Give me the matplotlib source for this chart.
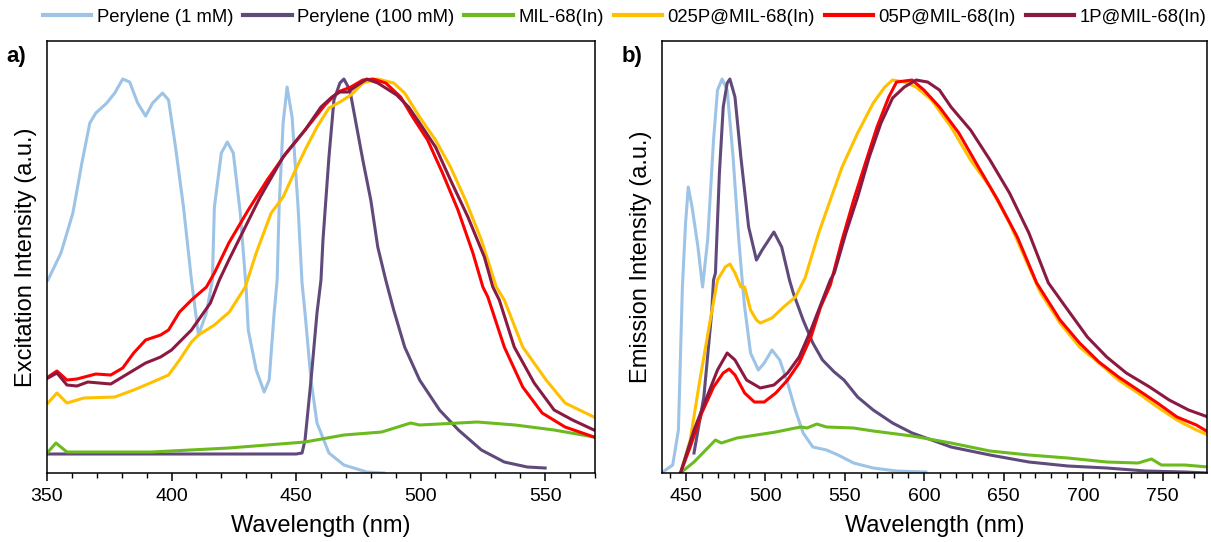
import matplotlib
matplotlib.use("Agg")
import matplotlib.pyplot as plt
from matplotlib.ticker import MultipleLocator, NullLocator

plt.rcParams['font.family'] = ['Liberation Sans', 'DejaVu Sans']

labels = ["Perylene (1 mM)", "Perylene (100 mM)", "MIL-68(In)",
          "025P@MIL-68(In)", "05P@MIL-68(In)", "1P@MIL-68(In)"]
colors = ["#9DC3E6", "#604A7B", "#6CBB1E", "#FFC000", "#FF0000", "#8B1A42"]

# ---- a) excitation ----
exc_p1_x = [350.4, 355.6, 360.4, 364, 367.2, 369.6, 374, 377.2, 380.4, 383.2, 386.4,
            389.6, 392.4, 396.4, 398.8, 401.6, 404.8, 408, 410.8, 414, 416.4, 417.2,
            420, 422.4, 424.8, 427.6, 430, 430.8, 434, 437.2, 439.2, 441.2, 442.4,
            443.2, 444.8, 446.4, 448.4, 450.8, 452.4, 453.6, 456, 458.4, 463.2,
            469.2, 478.4, 485.2]
exc_p1_y = [193, 220, 260, 310, 350, 360, 370, 380, 394, 391, 370,
            357, 370, 380, 373, 326, 266, 193, 138, 160, 193, 266,
            320, 331, 320, 260, 183, 143, 103, 81, 93, 160, 193,
            266, 350, 386, 356, 266, 190, 160, 93, 50, 20,
            8, 1, 0]

exc_p100_x = [350, 380, 420, 450, 452.4, 453.6, 456, 458.4, 460, 460.8, 463.2, 465.2,
              467.6, 469.2, 471.6, 473.6, 476.8, 480, 482.8, 486, 489.2, 493.6,
              499.6, 507.6, 515.2, 524.4, 533.6, 542.8, 550]
exc_p100_y = [19, 19, 19, 19, 20, 33, 93, 160, 193, 233, 316, 373,
              390, 394, 383, 356, 313, 273, 226, 193, 163, 126,
              93, 63, 43, 23, 11, 6, 5]

exc_mil_x = [350.4, 353.6, 358, 375, 392, 423, 453.6, 469.2, 484.4, 496, 499.6,
             515.2, 522.8, 538, 553.6, 569.6]
exc_mil_y = [21, 30, 21, 21, 21, 25, 31, 38, 41, 50, 48,
             50, 51, 48, 43, 36]

exc_025_x = [350.4, 354, 358, 364.8, 377.2, 384.8, 392.4, 398.8, 403.2, 408, 410.8,
             417.2, 423.2, 429.6, 434, 440, 444.8, 449.2, 453.6, 458.4, 463.2,
             467.6, 472, 476.8, 482.8, 489.2, 493.6, 499.6, 506, 512, 518, 524.4,
             530.4, 533.6, 541, 550.4, 558, 569.6]
exc_025_y = [70, 80, 70, 75, 76, 83, 91, 98, 113, 131, 138,
             148, 161, 186, 220, 260, 276, 300, 323, 346, 365,
             371, 378, 390, 394, 390, 380, 356, 333, 306, 273, 233,
             186, 173, 126, 93, 70, 56]

exc_05_x = [350.4, 354, 358, 362, 369.6, 375.6, 380.4, 384.8, 389.6, 395.6, 398.8,
            403.2, 408, 414, 417.2, 423, 430.8, 438.4, 446, 453.6, 461.6, 466.8,
            472, 476.8, 481, 486, 492, 496.8, 502.8, 508.8, 515, 521, 525, 527,
            533.6, 541, 548.8, 558, 569.6]
exc_05_y = [96, 102, 93, 94, 99, 98, 105, 120, 133, 138, 143,
            161, 173, 186, 200, 230, 263, 293, 320, 343, 368, 381,
            386, 393, 394, 390, 376, 356, 333, 300, 263, 220, 186, 176,
            126, 86, 60, 46, 36]

exc_1_x = [350.4, 354, 358, 362, 366.4, 375.6, 381.6, 389.6, 395.6, 400, 408,
           415.6, 419.2, 423, 427.6, 435.6, 444.8, 453.6, 460, 464.4, 467.6,
           470.8, 473.6, 478.4, 482.8, 486, 490.4, 495.2, 499.6, 506, 512, 519,
           525.6, 529, 531.6, 537.6, 545.6, 553.6, 561, 569.6]
exc_1_y = [95, 100, 88, 87, 91, 89, 98, 110, 116, 123, 143,
           170, 193, 213, 236, 276, 316, 343, 366, 376, 381,
           381, 386, 394, 390, 385, 378, 366, 350, 326, 293, 256,
           216, 186, 173, 126, 90, 63, 53, 43]

# ---- b) emission ----
em_p1_x = [435.5, 441.7, 445.3, 447.8, 449.8, 451.5, 453.9, 457.6, 460.5, 463.7,
           467.4, 469.9, 472.8, 476, 479.7, 483.3, 485.8, 487, 490.7, 495.6,
           499.3, 504.2, 509.1, 514, 518.9, 523.8, 529.9, 538.5, 545.8, 555.6,
           567.9, 582.6, 601]
em_p1_y = [1, 8, 43, 186, 250, 286, 266, 226, 186, 233,
           333, 383, 394, 383, 316, 233, 186, 166, 120, 103,
           110, 123, 113, 90, 63, 40, 26, 23, 18, 10,
           5, 2, 1]

em_p100_x = [455.1, 461.3, 466.2, 467.4, 468.6, 471.1, 473.5, 476, 477.7, 480.9,
             484.6, 489.5, 494.4, 498, 505.4, 510.3, 515.2, 517.6, 523.8, 529.9,
             536, 543.4, 549.5, 558.1, 567.9, 580.1, 592.4, 604.7, 616.9, 641.4,
             665.9, 690.4, 714.9, 739.5, 764, 778.7]
em_p100_y = [20, 76, 160, 193, 200, 300, 366, 390, 394, 376,
             316, 246, 213, 223, 241, 226, 193, 180, 153, 130,
             113, 101, 93, 76, 63, 50, 40, 33, 26, 18,
             11, 7, 5, 2, 1, 0]

em_mil_x = [446.6, 455.1, 462.5, 468.6, 472.3, 482.1, 494.4, 506.6, 518.9, 522.6,
            526.2, 532.4, 538.5, 555.6, 567.9, 592.4, 616.9, 641.4, 665.9, 690.4,
            714.9, 734.6, 743.1, 749.3, 764, 778.7]
em_mil_y = [0, 11, 23, 33, 30, 35, 38, 41, 45, 46,
            45, 49, 46, 45, 42, 37, 30, 22, 18, 15,
            11, 10, 14, 8, 8, 6]

em_025_x = [446.6, 452.7, 458.8, 465, 469.9, 474.8, 477.7, 480.9, 484.6, 487,
            490.7, 494.4, 496.8, 504.2, 511.5, 518.9, 525, 533.6, 540.9, 548.3,
            558.1, 567.9, 575.2, 580.1, 587.5, 594.9, 604.7, 616.9, 629.2, 641.4,
            653.7, 665.9, 673.3, 685.5, 697.8, 710, 722.3, 734.6, 746.8, 759.1,
            771.3, 778.7]
em_025_y = [0, 33, 93, 150, 193, 206, 209, 200, 186, 186,
            163, 153, 150, 155, 166, 176, 195, 240, 273, 306,
            340, 370, 386, 393, 391, 386, 373, 346, 313, 286,
            250, 206, 180, 150, 126, 110, 93, 80, 66, 53,
            43, 38]

em_05_x = [446.6, 452.7, 460, 467.4, 473.5, 477.2, 480.9, 487, 493.1, 499.3,
           506.6, 514, 521.3, 528.7, 534.8, 540.9, 548.3, 555.6, 563, 570.3,
           577.7, 582.6, 587.5, 592.4, 599.8, 609.6, 621.8, 634.1, 646.3, 658.6,
           670.8, 685.5, 697.8, 710, 722.3, 734.6, 746.8, 759.1, 771.3, 778.7]
em_05_y = [0, 26, 60, 86, 100, 104, 98, 80, 71, 71,
           80, 93, 110, 136, 166, 188, 233, 273, 310, 346,
           376, 391, 392, 393, 383, 366, 340, 306, 273, 236,
           190, 153, 130, 111, 96, 83, 70, 56, 48, 41]

em_1_x = [446.6, 455.1, 462.5, 469.9, 476, 480.9, 488.2, 496.8, 505.4, 514,
          521.3, 528.7, 536, 540.9, 543.4, 550.7, 558.1, 565.4, 572.8, 580.1,
          587.5, 594.9, 602.2, 609.6, 616.9, 629.2, 641.4, 653.7, 665.9, 675.7,
          678.2, 690.4, 702.7, 714.9, 727.2, 741.9, 754.2, 766.4, 778.7]
em_1_y = [0, 43, 73, 103, 120, 113, 93, 85, 88, 100,
          116, 143, 173, 193, 200, 240, 276, 316, 350, 375,
          386, 393, 391, 383, 366, 343, 313, 280, 240, 200,
          190, 163, 136, 116, 100, 86, 73, 63, 56]

exc_series = [(exc_p1_x, exc_p1_y), (exc_p100_x, exc_p100_y), (exc_mil_x, exc_mil_y),
              (exc_025_x, exc_025_y), (exc_05_x, exc_05_y), (exc_1_x, exc_1_y)]
em_series = [(em_p1_x, em_p1_y), (em_p100_x, em_p100_y), (em_mil_x, em_mil_y),
             (em_025_x, em_025_y), (em_05_x, em_05_y), (em_1_x, em_1_y)]

fig = plt.figure(figsize=(12.11, 5.42), dpi=100)
ax1 = fig.add_axes([0.0388, 0.1273, 0.4525, 0.797])
ax2 = fig.add_axes([0.5467, 0.1273, 0.45, 0.797])

for (x, y), c, lab in zip(exc_series, colors, labels):
    ax1.plot(x, y, color=c, lw=2.2, label=lab)
for (x, y), c in zip(em_series, colors):
    ax2.plot(x, y, color=c, lw=2.2)

ax1.set_xlim(350, 570)
ax2.set_xlim(435, 778)
for ax, ylab, tag in [(ax1, "Excitation Intensity (a.u.)", "a)"),
                      (ax2, "Emission Intensity (a.u.)", "b)")]:
    ax.set_ylim(0, 432)
    ax.yaxis.set_major_locator(NullLocator())
    ax.xaxis.set_major_locator(MultipleLocator(50))
    ax.xaxis.set_minor_locator(MultipleLocator(10))
    ax.tick_params(axis='x', which='major', length=6, width=1.1, labelsize=14, pad=5)
    ax.tick_params(axis='x', which='minor', length=3.5, width=1.0)
    for s in ax.spines.values():
        s.set_linewidth(1.1)
    ax.set_xlabel("Wavelength (nm)", fontsize=17, labelpad=7)
    ax.set_ylabel(ylab, fontsize=17, labelpad=7)
    ax.text(-0.075, 0.965, tag, transform=ax.transAxes, fontsize=16,
            fontweight='bold', ha='left', va='center')

fig.legend(loc='center', bbox_to_anchor=(0.516, 0.968), ncol=6, frameon=False,
           fontsize=13.3, handlelength=2.6, handletextpad=0.3, columnspacing=0.55,
           borderaxespad=0)
for h in fig.legends[0].get_lines():
    h.set_linewidth(3)

fig.savefig("out.png", dpi=100)
